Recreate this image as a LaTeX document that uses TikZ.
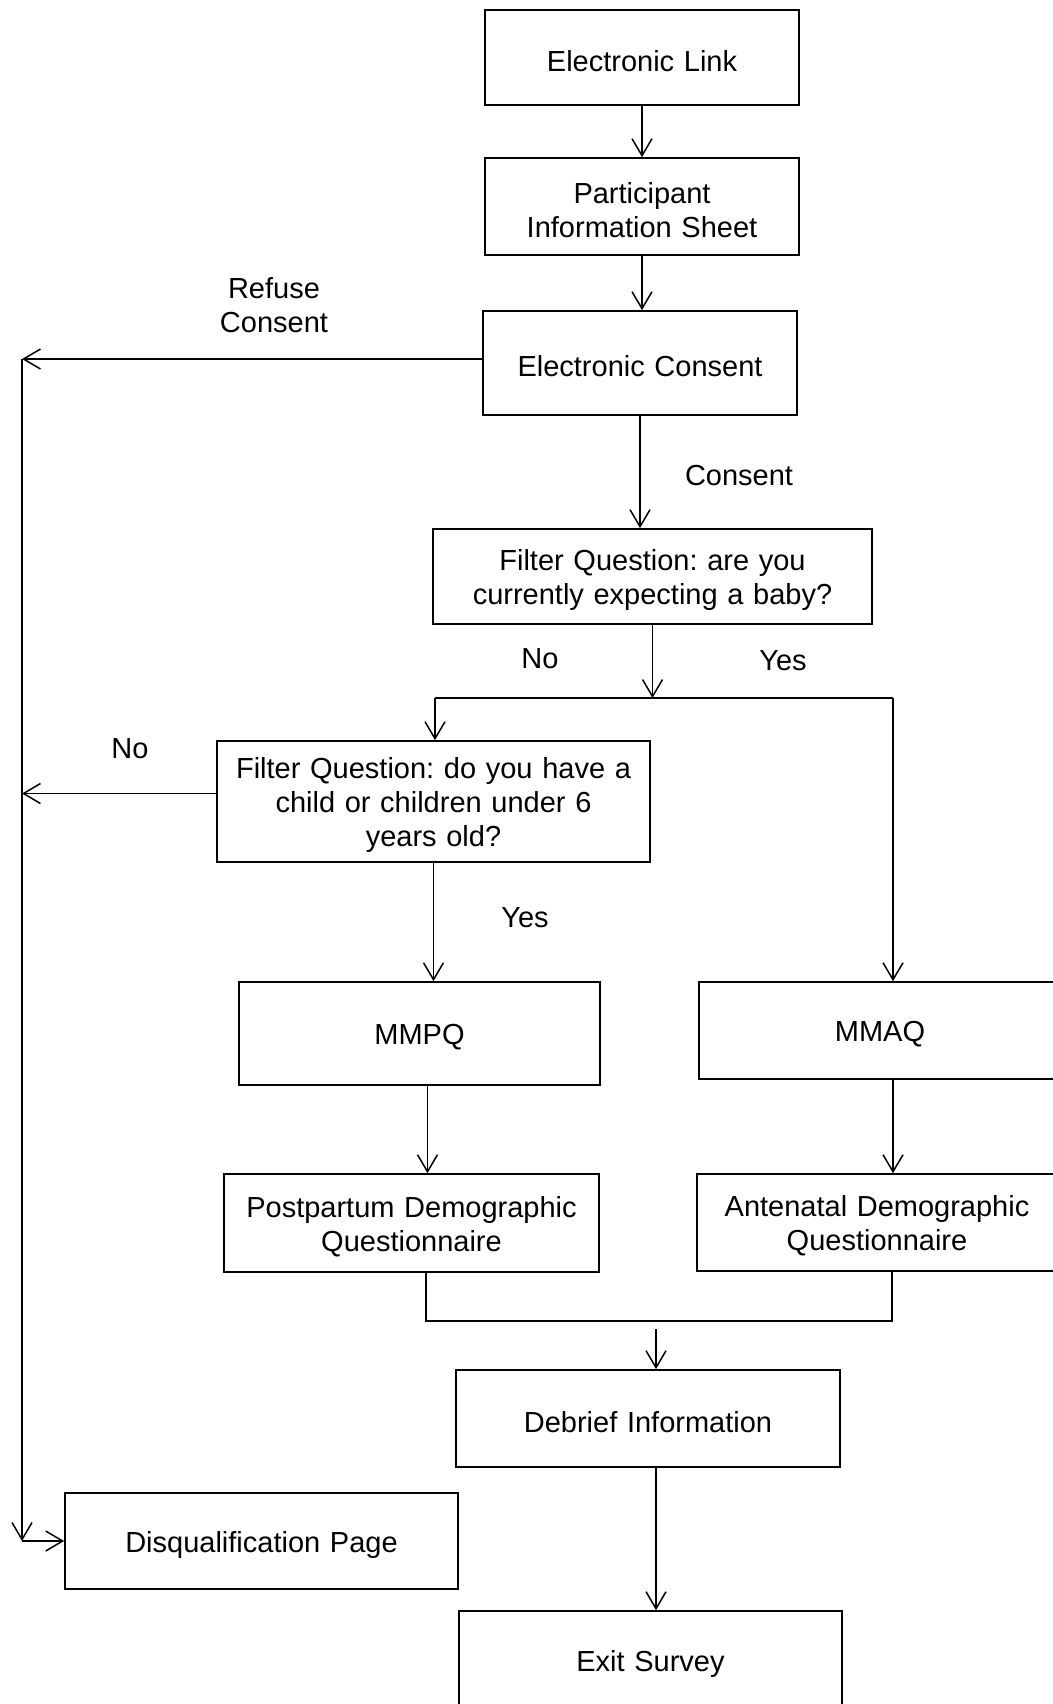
\documentclass[tikz,border=0pt]{standalone}
\usepackage{fontspec}
\setmainfont{Liberation Sans}
\usetikzlibrary{arrows.meta,positioning,calc}

\begin{document}
\begin{tikzpicture}[
        x=1pt, y=-1pt,
        font=\fontsize{29pt}{34pt}\selectfont\frenchspacing,
        box/.style={
            draw,
            line width=1.7pt,
            align=center,
            inner sep=0pt,
            execute at begin node={\rule{0pt}{28pt}}
        },
        lbl/.style={
            align=center,
            inner sep=0pt
        },
        flow/.style={
            line width=1.5pt,
            -{Straight Barb[length=17pt,width=20pt,line width=1.5pt]}
        },
        wire/.style={
            line width=1.5pt
        }
    ]
    \useasboundingbox (0,0) rectangle (1052,1704);

    % Boxes
    \node[box, text width=314pt, minimum height=95pt] (link) at (642,57.5) {Electronic Link};
    \node[box, text width=314pt, minimum height=97pt] (info) at (642,206.5) {Participant\\Information Sheet};
    \node[box, text width=314pt, minimum height=104pt] (consent) at (640,363) {Electronic Consent};
    \node[box, text width=439pt, minimum height=95pt] (filt1) at (652.5,576.5) {Filter Question: are you\\currently expecting a baby?};
    \node[box, text width=433pt, minimum height=121pt] (filt2) at (433.5,801.5) {Filter Question: do you have a\\child or children under 6\\years old?};
    \node[box, text width=361pt, minimum height=103pt] (mmpq) at (419.5,1033.5) {MMPQ};
    \node[box, text width=362pt, minimum height=97pt] (mmaq) at (880,1030.5) {MMAQ};
    \node[box, text width=375pt, minimum height=98pt] (post) at (411.5,1223) {Postpartum Demographic\\Questionnaire};
    \node[box, text width=360pt, minimum height=97pt] (ante) at (877,1222.5) {Antenatal Demographic\\Questionnaire};
    \node[box, text width=384pt, minimum height=97pt] (debrief) at (648,1418.5) {Debrief Information};
    \node[box, text width=393pt, minimum height=96pt] (disq) at (261.5,1541) {Disqualification Page};
    \node[box, text width=383pt, minimum height=98pt] (exit) at (650.5,1660) {Exit Survey};

    % Labels
    \node[lbl] (refuse) at (274,305) {Refuse\\Consent};
    \node[lbl] (agree) at (739,476) {Consent};
    \node[lbl] (noBaby) at (540,659) {No};
    \node[lbl] (yesBaby) at (783,661) {Yes};
    \node[lbl] (noChild) at (130,749) {No};
    \node[lbl] (yesChild) at (525,918) {Yes};

    % Junctions
    \coordinate (rail) at (22,1541);
    \coordinate (split) at (652.5,698);
    \coordinate (splitL) at (435,698);
    \coordinate (splitR) at (893,698);
    \coordinate (mergeL) at (426,1321);
    \coordinate (mergeR) at (892,1321);
    \coordinate (join) at (656,1329);

    % Main line
    \draw[flow] (link.south) -- (link.south |- info.north);
    \draw[flow] (info.south) -- (info.south |- consent.north);
    \draw[flow] (consent.south) -- (consent.south |- filt1.north);
    \draw[flow] (filt1.south) -- (split);
    \draw[wire] (splitL) -- (splitR);
    \draw[flow] (splitL) -- (splitL |- filt2.north);
    \draw[flow] (splitR) -- (splitR |- mmaq.north);
    \draw[flow] (filt2.south) -- (filt2.south |- mmpq.north);
    \draw[flow] ([xshift=8pt]mmpq.south) -- ([xshift=8pt]mmpq.south |- post.north);
    \draw[flow] (splitR |- mmaq.south) -- (splitR |- ante.north);
    \draw[wire] (mergeL |- post.south) -- (mergeL) -- (mergeR) -- (mergeR |- ante.south);
    \draw[flow] (join) -- (join |- debrief.north);
    \draw[flow] (join |- debrief.south) -- (join |- exit.north);

    % Disqualification rail
    \draw[flow] ([yshift=4pt]consent.west) -- ([yshift=4pt]consent.west -| rail);
    \draw[flow] ([yshift=8pt]filt2.west) -- ([yshift=8pt]filt2.west -| rail);
    \draw[flow] ([yshift=4pt]consent.west -| rail) -- (rail);
    \draw[flow] (rail) -- (disq.west);
\end{tikzpicture}
\end{document}
